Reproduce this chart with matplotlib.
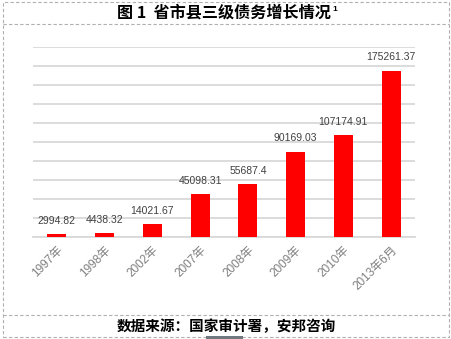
import matplotlib.pyplot as plt
from matplotlib.patches import Rectangle
from matplotlib.lines import Line2D

plt.rcParams['font.family'] = ['Liberation Sans', 'Noto Sans CJK SC', 'DejaVu Sans']

categories = ['1997年', '1998年', '2002年', '2007年', '2008年', '2009年', '2010年', '2013年6月']
debt = [2994.82, 4438.32, 14021.67, 45098.31, 55687.4, 90169.03, 107174.91, 175261.37]
labels = ['2994.82', '4438.32', '14021.67', '45098.31', '55687.4', '90169.03', '107174.91', '175261.37']

W, H = 452, 339
fig = plt.figure(figsize=(W / 100, H / 100), dpi=100)

# 绘图区 (像素坐标换算)
left, right, top, bottom = 33, 415, 47.3, 237.3
ax = fig.add_axes([left / W, 1 - bottom / H, (right - left) / W, (bottom - top) / H])
x = range(len(categories))
ax.bar(x, debt, width=0.4, color='#ff0000', zorder=3)
for i, (v, t) in enumerate(zip(debt, labels)):
    ax.annotate(t, (i, v), xytext=(0, 6), textcoords='offset points',
                ha='center', va='bottom', fontsize=7.5, color='#404040')

ax.set_xlim(-0.5, len(categories) - 0.5)
ax.set_ylim(0, 200000)
ax.set_yticks(range(0, 200001, 20000))
ax.set_yticklabels([])
ax.tick_params(axis='y', length=0)
ax.grid(axis='y', color='#d9d9d9', linewidth=1.3)
ax.set_axisbelow(True)
for s in ['top', 'right', 'left']:
    ax.spines[s].set_visible(False)
ax.spines['bottom'].set_color('#d9d9d9')
ax.spines['bottom'].set_linewidth(1.3)
ax.set_xticks(list(x))
ax.set_xticklabels(categories, rotation=45, ha='right', rotation_mode='anchor',
                   fontsize=8.5, color='#7f7f7f')
ax.tick_params(axis='x', length=0, pad=5)

# 虚线边框与分隔线
def px(xp, yp):
    return xp / W, 1 - yp / H

fig.add_artist(Rectangle(px(3, 337), 446 / W, 335 / H, transform=fig.transFigure,
                         fill=False, edgecolor='#b0b0b0', linestyle=(0, (3, 2)), linewidth=0.8))
for yp in (24, 315):
    x0, y0 = px(3, yp)
    x1, _ = px(449, yp)
    fig.add_artist(Line2D([x0, x1], [y0, y0], transform=fig.transFigure,
                          color='#b0b0b0', linestyle=(0, (3, 2)), linewidth=0.8))

cjk = ['Noto Sans CJK SC', 'DejaVu Sans']
fig.text(224 / W, 1 - 13 / H, '图 1  省市县三级债务增长情况', ha='center', va='center',
         fontsize=11.6, fontweight='bold', color='black', family=cjk)
fig.text(332 / W, 1 - 9.5 / H, '1', ha='left', va='center',
         fontsize=6, fontweight='bold', color='black')
fig.text(226 / W, 1 - 326 / H, '数据来源：国家审计署，安邦咨询', ha='center', va='center',
         fontsize=10.5, fontweight='bold', color='black', family=cjk)
fig.add_artist(Rectangle(px(206, 339), 37 / W, 3 / H, transform=fig.transFigure,
                         color='#707880', linewidth=0))

fig.savefig('out.png', dpi=100)
